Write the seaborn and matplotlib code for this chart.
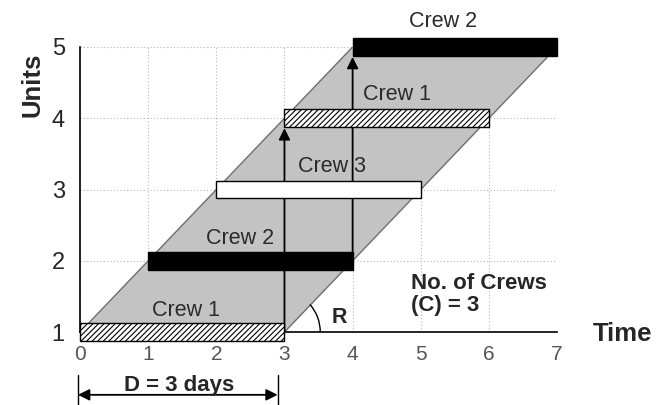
import matplotlib
matplotlib.use("Agg")
import matplotlib.pyplot as plt
from matplotlib.patches import Polygon, Arc
import seaborn as sns
import pandas as pd

# crew schedule (one bar per unit)
units = [1, 2, 3, 4, 5]
crews = ["Crew 1", "Crew 2", "Crew 3", "Crew 1", "Crew 2"]
starts = [0, 1, 2, 3, 4]
duration = 3
x_ticks = [0, 1, 2, 3, 4, 5, 6, 7]
y_ticks = [1, 2, 3, 4, 5]

# parallelogram corners (time, unit)
band_x = [0, 3, 7, 4]
band_y = [1, 1, 5, 5]

sns.set_style("white")
plt.rcParams['font.family'] = ['Liberation Sans', 'DejaVu Sans']
plt.rcParams['hatch.linewidth'] = 0.8

crew_style = {
    "Crew 1": dict(facecolor="white", hatch="//////"),
    "Crew 2": dict(facecolor="black", hatch=None),
    "Crew 3": dict(facecolor="white", hatch=None),
}

fig = plt.figure(figsize=(6.63, 4.05), dpi=100)
ax = fig.add_axes([0.1207, 0.180, 0.7195, 0.704])

df = pd.DataFrame({"unit": units, "crew": crews, "start": starts})

# shaded band
ax.add_patch(Polygon(list(zip(band_x, band_y)), closed=True, facecolor="#c3c3c3",
                     edgecolor="#6e6e6e", linewidth=1.0, zorder=2))

# vertical arrows between crews
ax.annotate("", xy=(3, 3.86), xytext=(3, 1.0),
            arrowprops=dict(arrowstyle="-|>", color="black", lw=1.3,
                            mutation_scale=17, shrinkA=0, shrinkB=0), zorder=3)
ax.annotate("", xy=(4, 4.86), xytext=(4, 2.0),
            arrowprops=dict(arrowstyle="-|>", color="black", lw=1.3,
                            mutation_scale=17, shrinkA=0, shrinkB=0), zorder=3)

for _, r in df.iterrows():
    st = crew_style[r["crew"]]
    ax.barh(r["unit"], duration, left=r["start"], height=0.25,
            facecolor=st["facecolor"], hatch=st["hatch"], edgecolor="black",
            linewidth=1.0, zorder=4, clip_on=False)

label_pos = [(1.56, 1.31), (2.35, 2.32), (3.7, 3.32), (4.65, 4.33), (5.33, 5.36)]
for (lx, ly), name in zip(label_pos, crews):
    ax.text(lx, ly, name, ha="center", va="center", fontsize=15.5,
            color="#2a2a2a", zorder=5, clip_on=False)

# angle R
ax.add_patch(Arc((3, 1), 1.05, 1.1, theta1=0, theta2=46, color="black", lw=1.0, zorder=5))
ax.text(3.8, 1.2, "R", fontsize=15.5, fontweight="bold", va="center", ha="center", zorder=5)

ax.text(4.86, 1.53, "No. of Crews\n(C) = 3", fontsize=16, fontweight="bold",
        va="center", ha="left", linespacing=1.05, zorder=5)

ax.set_xlim(0, 7)
ax.set_ylim(1, 5)
ax.set_xticks(x_ticks)
ax.set_yticks(y_ticks)
ax.tick_params(axis="x", length=0, pad=9, labelsize=15, labelcolor="#555555")
ax.tick_params(axis="y", length=0, pad=11, labelsize=17)
ax.grid(True, linestyle=(0, (1, 2)), color="#b8b8b8", linewidth=0.8)
ax.set_axisbelow(True)
sns.despine(ax=ax, top=True, right=True)
for s in ["left", "bottom"]:
    ax.spines[s].set_color("black")
    ax.spines[s].set_linewidth(1.2)

ax.text(-0.7, 4.47, "Units", rotation=90, fontsize=18.5, fontweight="bold",
        ha="center", va="center", clip_on=False)
ax.text(7.52, 0.97, "Time", fontsize=18.5, fontweight="bold", ha="left", va="center",
        clip_on=False)

# duration dimension
ax.annotate("", xy=(-0.03, 0.12), xytext=(2.9, 0.12), xycoords="data",
            arrowprops=dict(arrowstyle="<|-|>", color="black", lw=1.3,
                            mutation_scale=17, shrinkA=0, shrinkB=0),
            annotation_clip=False)
for xv in [-0.03, 2.9]:
    ax.plot([xv, xv], [0.4, -0.05], color="black", lw=1.0, clip_on=False)
ax.text(1.45, 0.25, "D = 3 days", fontsize=16, fontweight="bold", ha="center",
        va="center", clip_on=False)

fig.savefig("out.png", dpi=100)
